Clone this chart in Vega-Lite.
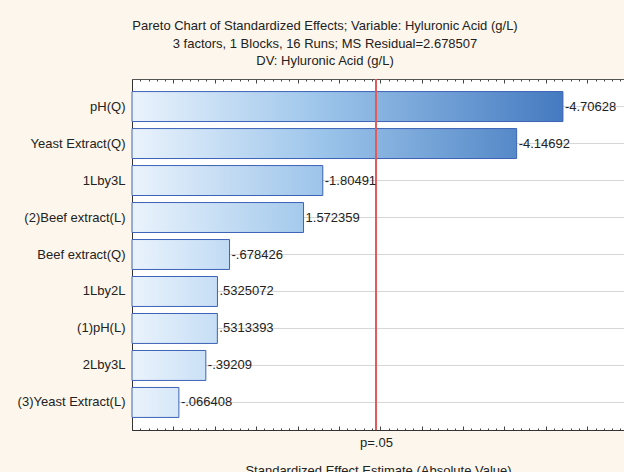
{
  "$schema": "https://vega.github.io/schema/vega-lite/v6.json",
  "autosize": {"type": "none"},
  "padding": {"left": 132, "top": 79, "right": 0, "bottom": 42},
  "width": 492,
  "height": 351,
  "background": "#FDF6EC",
  "title": {
    "text": ["Pareto Chart of Standardized Effects; Variable: Hyluronic Acid (g/L)", "3 factors, 1 Blocks, 16 Runs; MS Residual=2.678507", "DV: Hyluronic Acid (g/L)"],
    "fontSize": 13, "fontWeight": "normal", "color": "#222222", "lineHeight": 17.5,
    "anchor": "middle", "dx": -53, "offset": 10, "font": "Liberation Sans"
  },
  "config": {
    "view": {"stroke": null, "fill": "#FFFFFF"},
    "font": "Liberation Sans",
    "axis": {"labelFont": "Liberation Sans", "titleFont": "Liberation Sans", "labelColor": "#222222", "titleColor": "#222222", "domainColor": "#444444", "tickColor": "#444444", "grid": false}
  },
  "data": {
    "values": [
      {"factor": "pH(Q)", "effect": 4.70628, "label": "-4.70628"},
      {"factor": "Yeast Extract(Q)", "effect": 4.14692, "label": "-4.14692"},
      {"factor": "1Lby3L", "effect": 1.80491, "label": "-1.80491"},
      {"factor": "(2)Beef extract(L)", "effect": 1.572359, "label": "1.572359"},
      {"factor": "Beef extract(Q)", "effect": 0.678426, "label": "-.678426"},
      {"factor": "1Lby2L", "effect": 0.5325072, "label": ".5325072"},
      {"factor": "(1)pH(L)", "effect": 0.5313393, "label": ".5313393"},
      {"factor": "2Lby3L", "effect": 0.39209, "label": "-.39209"},
      {"factor": "(3)Yeast Extract(L)", "effect": 0.066408, "label": "-.066408"}
    ]
  },
  "resolve": {"axis": {"x": "independent"}},
  "layer": [
    {
      "mark": {"type": "rule", "color": "#D6D6D6", "strokeWidth": 1},
      "encoding": {
        "y": {"field": "factor", "type": "nominal", "sort": null,
          "scale": {"paddingInner": 0.19, "paddingOuter": 0.34},
          "axis": {"title": null, "labelFontSize": 13, "labelPadding": 11, "tickSize": -4, "bandPosition": 0.5, "domainColor": "#333333", "labelLimit": 200}
        }
      }
    },
    {
      "mark": {"type": "bar", "stroke": "#3D62B6", "strokeWidth": 1},
      "encoding": {
        "y": {"field": "factor", "type": "nominal", "sort": null},
        "x": {"field": "effect", "type": "quantitative",
          "scale": {"domain": [-0.5, 5.444], "nice": false, "zero": false},
          "axis": {
            "orient": "bottom",
            "title": "Standardized Effect Estimate (Absolute Value)",
            "titleFontSize": 13, "titleFontWeight": "normal", "titlePadding": 15,
            "values": [-0.5,-0.4,-0.3,-0.2,-0.1,0,0.1,0.2,0.3,0.4,0.5,0.6,0.7,0.8,0.9,1,1.1,1.2,1.3,1.4,1.5,1.6,1.7,1.8,1.9,2,2.1,2.2,2.3,2.4,2.447,2.5,2.6,2.7,2.8,2.9,3,3.1,3.2,3.3,3.4,3.5,3.6,3.7,3.8,3.9,4,4.1,4.2,4.3,4.4,4.5,4.6,4.7,4.8,4.9,5,5.1,5.2,5.3,5.4],
            "labelExpr": "datum.value == 2.447 ? 'p=.05' : ''",
            "labelFontSize": 13, "labelPadding": 8, "labelOverlap": false, "labelFlush": false, "labelBound": false,
            "tickSize": {"condition": {"test": "abs(datum.value*2 - round(datum.value*2)) < 0.001", "value": -4}, "value": -2},
            "domainColor": "#333333"
          }
        },
        "x2": {"datum": -0.5},
        "fill": {
          "condition": [
            {"test": "datum.factor === 'pH(Q)'", "value": {"gradient": "linear", "x1": 0, "y1": 0, "x2": 1, "y2": 0, "stops": [{"offset": 0, "color": "#EAF3FC"}, {"offset": 0.43, "color": "#9EC6EB"}, {"offset": 1, "color": "#447AC0"}]}},
            {"test": "datum.factor === 'Yeast Extract(Q)'", "value": {"gradient": "linear", "x1": 0, "y1": 0, "x2": 1, "y2": 0, "stops": [{"offset": 0, "color": "#EAF3FC"}, {"offset": 0.482, "color": "#9EC6EB"}, {"offset": 1, "color": "#5589C8"}]}},
            {"test": "datum.factor === '1Lby3L'", "value": {"gradient": "linear", "x1": 0, "y1": 0, "x2": 1, "y2": 0, "stops": [{"offset": 0, "color": "#EAF3FC"}, {"offset": 1, "color": "#9CC4EA"}]}},
            {"test": "datum.factor === '(2)Beef extract(L)'", "value": {"gradient": "linear", "x1": 0, "y1": 0, "x2": 1, "y2": 0, "stops": [{"offset": 0, "color": "#EAF3FC"}, {"offset": 1, "color": "#A4CAEC"}]}},
            {"test": "datum.factor === 'Beef extract(Q)'", "value": {"gradient": "linear", "x1": 0, "y1": 0, "x2": 1, "y2": 0, "stops": [{"offset": 0, "color": "#EAF3FC"}, {"offset": 1, "color": "#C1DBF4"}]}},
            {"test": "datum.factor === '1Lby2L' || datum.factor === '(1)pH(L)'", "value": {"gradient": "linear", "x1": 0, "y1": 0, "x2": 1, "y2": 0, "stops": [{"offset": 0, "color": "#EAF3FC"}, {"offset": 1, "color": "#C6DEF5"}]}},
            {"test": "datum.factor === '2Lby3L'", "value": {"gradient": "linear", "x1": 0, "y1": 0, "x2": 1, "y2": 0, "stops": [{"offset": 0, "color": "#EAF3FC"}, {"offset": 1, "color": "#CBE1F6"}]}}
          ],
          "value": {"gradient": "linear", "x1": 0, "y1": 0, "x2": 1, "y2": 0, "stops": [{"offset": 0, "color": "#EAF3FC"}, {"offset": 1, "color": "#D6E7F8"}]}
        }
      }
    },
    {
      "mark": {"type": "rule", "color": "#E55A5C", "strokeWidth": 1.5},
      "encoding": {
        "x": {"datum": 2.447, "type": "quantitative", "axis": null}
      }
    },
    {
      "mark": {"type": "text", "align": "left", "baseline": "middle", "dx": 2, "fontSize": 13, "color": "#222222", "font": "Liberation Sans"},
      "encoding": {
        "y": {"field": "factor", "type": "nominal", "sort": null},
        "x": {"field": "effect", "type": "quantitative",
          "axis": {
            "orient": "top", "title": null, "labels": false,
            "values": [-0.5,-0.4,-0.3,-0.2,-0.1,0,0.1,0.2,0.3,0.4,0.5,0.6,0.7,0.8,0.9,1,1.1,1.2,1.3,1.4,1.5,1.6,1.7,1.8,1.9,2,2.1,2.2,2.3,2.4,2.5,2.6,2.7,2.8,2.9,3,3.1,3.2,3.3,3.4,3.5,3.6,3.7,3.8,3.9,4,4.1,4.2,4.3,4.4,4.5,4.6,4.7,4.8,4.9,5,5.1,5.2,5.3,5.4],
            "tickSize": {"condition": {"test": "abs(datum.value*2 - round(datum.value*2)) < 0.001", "value": -4}, "value": -2},
            "domainColor": "#555555"
          }
        },
        "text": {"field": "label", "type": "nominal"}
      }
    }
  ]
}
